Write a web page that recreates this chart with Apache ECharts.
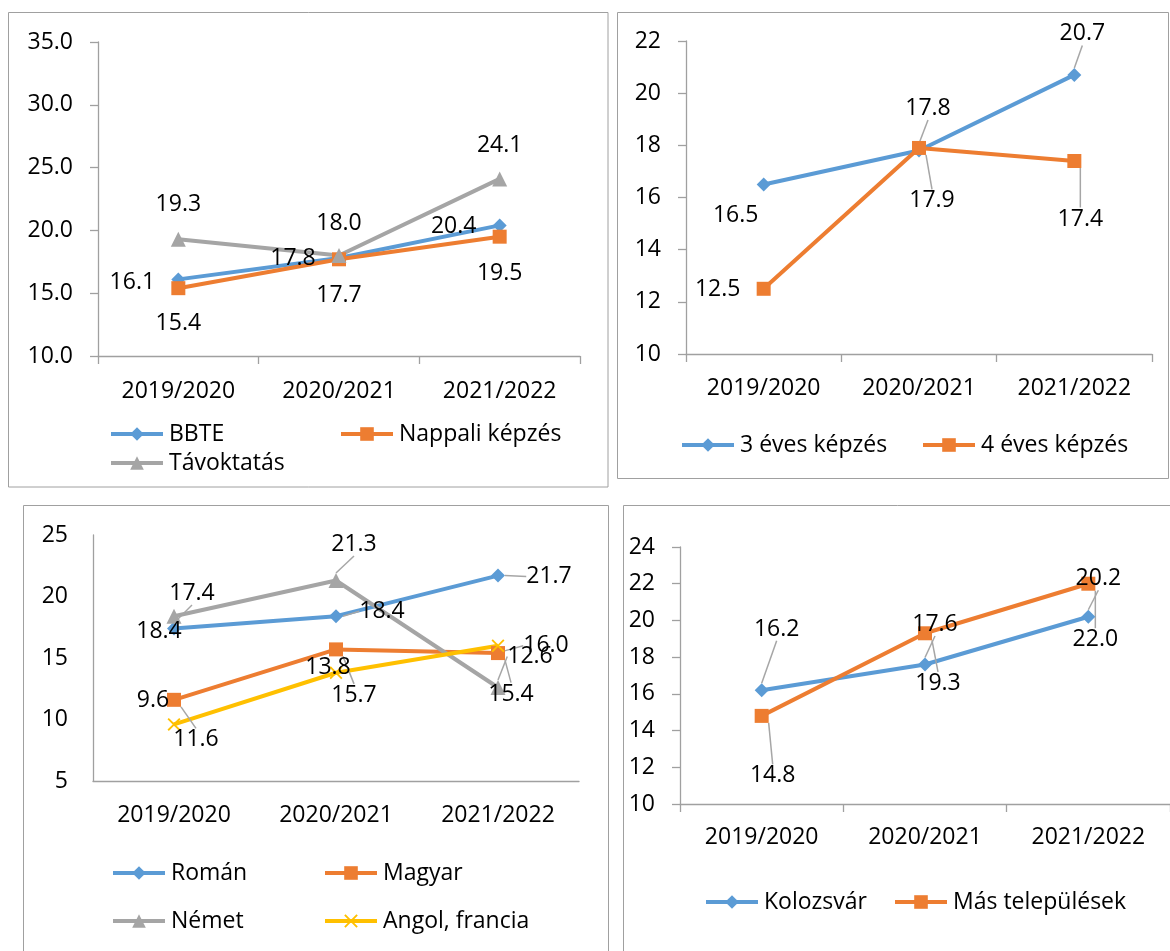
<!DOCTYPE html>
<html>
<head>
<meta charset="utf-8">
<script src="https://cdn.jsdelivr.net/npm/echarts@6/dist/echarts.min.js"></script>
<style>
html,body{margin:0;padding:0;background:#fff;}
#c{width:1170px;height:951px;}
</style>
</head>
<body>
<div id="c"></div>
<script>
// ---- data ----
const categories = ['2019/2020', '2020/2021', '2021/2022'];
// panel 1
const bbte = [16.1, 17.8, 20.4];
const nappali = [15.4, 17.7, 19.5];
const tavoktatas = [19.3, 18.0, 24.1];
// panel 2
const harmEves = [16.5, 17.8, 20.7];
const negyEves = [12.5, 17.9, 17.4];
// panel 3
const roman = [17.4, 18.4, 21.7];
const magyar = [11.6, 15.7, 15.4];
const nemet = [18.4, 21.3, 12.6];
const angol = [9.6, 13.8, 16.0];
// panel 4
const kolozsvar = [16.2, 17.6, 20.2];
const masTelepulesek = [14.8, 19.3, 22.0];

// ---- styling / layout ----
const FONT = 'Open Sans';
const FS = 23;
const BLUE = '#5B9BD5', ORANGE = '#ED7D31', GRAY = '#A5A5A5', YELLOW = '#FFC000';
const AXIS = '#a0a0a0';
const XSYM = 'path://M0,1L1,0L5,4L9,0L10,1L6,5L10,9L9,10L5,6L1,10L0,9L4,5Z';
const LW = 4;

const grids = [
  {left: 98, top: 42, width: 482, height: 314},
  {left: 686, top: 41, width: 466, height: 313},
  {left: 93, top: 535, width: 486, height: 246},
  {left: 680, top: 547, width: 498, height: 257}
];
const yCfg = [
  {min: 10, max: 35, interval: 5, dec: 1, ticks: true},
  {min: 10, max: 22, interval: 2, dec: 0, ticks: true},
  {min: 5, max: 25, interval: 5, dec: 0, ticks: false},
  {min: 10, max: 24, interval: 2, dec: 0, ticks: true}
];
const xMargin = [24, 23, 23, 22];

function series(name, values, g, color, symbol, size, offs, leaders) {
  return {
    type: 'line', name: name, xAxisIndex: g, yAxisIndex: g,
    data: values.map((v, i) => ({value: v, labelLine: {show: !!leaders[i]}})),
    symbol: symbol, symbolSize: size,
    lineStyle: {color: color, width: LW},
    itemStyle: {color: color},
    label: {show: true, position: 'top', fontFamily: FONT, fontSize: FS, color: '#000',
      formatter: p => Number(p.value).toFixed(1)},
    labelLine: {show: true, lineStyle: {color: '#a6a6a6', width: 1.5}},
    labelLayout: p => ({
      x: p.rect.x + p.rect.width / 2 + offs[p.dataIndex][0],
      y: p.rect.y + p.rect.height / 2 + offs[p.dataIndex][1],
      align: 'center', verticalAlign: 'middle'
    }),
    animation: false
  };
}

const seriesList = [
  series('BBTE', bbte, 0, BLUE, 'diamond', 14, [[-46, 3], [-46, 0], [-46, 1]], [0, 0, 0]),
  series('Nappali képzés', nappali, 0, ORANGE, 'rect', 14, [[0, 35], [0, 36], [0, 37]], [0, 0, 0]),
  series('Távoktatás', tavoktatas, 0, GRAY, 'triangle', 15, [[0, -35], [0, -32], [0, -33]], [0, 0, 0]),

  series('3 éves képzés', harmEves, 1, BLUE, 'diamond', 14, [[-28, 31], [9, -42], [8, -41]], [0, 1, 1]),
  series('4 éves képzés', negyEves, 1, ORANGE, 'rect', 14, [[-46, 1], [13, 53], [6, 58]], [0, 1, 1]),

  series('Román', roman, 2, BLUE, 'diamond', 14, [[18, -35], [46, -5], [51, 1]], [1, 1, 1]),
  series('Magyar', magyar, 2, ORANGE, 'rect', 14, [[22, 40], [18, 46], [13, 41]], [1, 1, 1]),
  series('Német', nemet, 2, GRAY, 'triangle', 15, [[-15, 15], [18, -36], [32, -31]], [0, 1, 1]),
  series('Angol, francia', angol, 2, YELLOW, XSYM, 13, [[-21, -24], [-8, -5], [48, 0]], [0, 0, 1]),

  series('Kolozsvár', kolozsvar, 3, BLUE, 'diamond', 14, [[15, -61], [10, -40], [10, -38]], [1, 1, 1]),
  series('Más települések', masTelepulesek, 3, ORANGE, 'rect', 14, [[11, 60], [13, 50], [7, 56]], [1, 1, 1])
];

const legendPos = [
  ['BBTE', 109, 434], ['Nappali képzés', 339, 434], ['Távoktatás', 109, 463],
  ['3 éves képzés', 680, 445], ['4 éves képzés', 921, 445],
  ['Román', 111, 873], ['Magyar', 323, 873], ['Német', 111, 921], ['Angol, francia', 323, 921],
  ['Kolozsvár', 704, 902], ['Más települések', 893, 902]
];

const borders = [
  [8.5, 12.5, 599.5, 474.5],
  [617.5, 12.5, 551, 466],
  [23.5, 505.5, 585, 470],
  [623.5, 505.5, 560, 470]
];

const option = {
  backgroundColor: '#fff',
  grid: grids,
  xAxis: grids.map((g, i) => ({
    type: 'category', gridIndex: i, data: categories,
    axisLine: {show: true, lineStyle: {color: AXIS, width: 1.3}},
    axisTick: {show: yCfg[i].ticks, length: 8, lineStyle: {color: AXIS, width: 1.3}},
    axisLabel: {margin: xMargin[i], interval: 0, fontFamily: FONT, fontSize: FS, color: '#000'},
    splitLine: {show: false}
  })),
  yAxis: grids.map((g, i) => ({
    type: 'value', gridIndex: i, min: yCfg[i].min, max: yCfg[i].max, interval: yCfg[i].interval,
    axisLine: {show: true, lineStyle: {color: AXIS, width: 1.3}},
    axisTick: {show: yCfg[i].ticks, length: 8, lineStyle: {color: AXIS, width: 1.3}},
    axisLabel: {margin: 25, fontFamily: FONT, fontSize: FS, color: '#000',
      formatter: v => Number(v).toFixed(yCfg[i].dec)},
    splitLine: {show: false}
  })),
  legend: legendPos.map(l => ({
    data: [l[0]], left: l[1], top: l[2] - 11.5, padding: 0, itemGap: 0,
    itemWidth: 52, itemHeight: 17, selectedMode: false,
    lineStyle: {width: LW},
    textStyle: {fontFamily: FONT, fontSize: FS, color: '#000', padding: [0, 0, 0, 1]}
  })),
  graphic: borders.map(b => ({
    type: 'rect', silent: true, z: -10,
    shape: {x: b[0], y: b[1], width: b[2], height: b[3]},
    style: {fill: 'none', stroke: '#a0a0a0', lineWidth: 1}
  })),
  series: seriesList,
  animation: false
};

const chart = echarts.init(document.getElementById('c'), null, {renderer: 'canvas'});
chart.setOption(option);
</script>
</body>
</html>
